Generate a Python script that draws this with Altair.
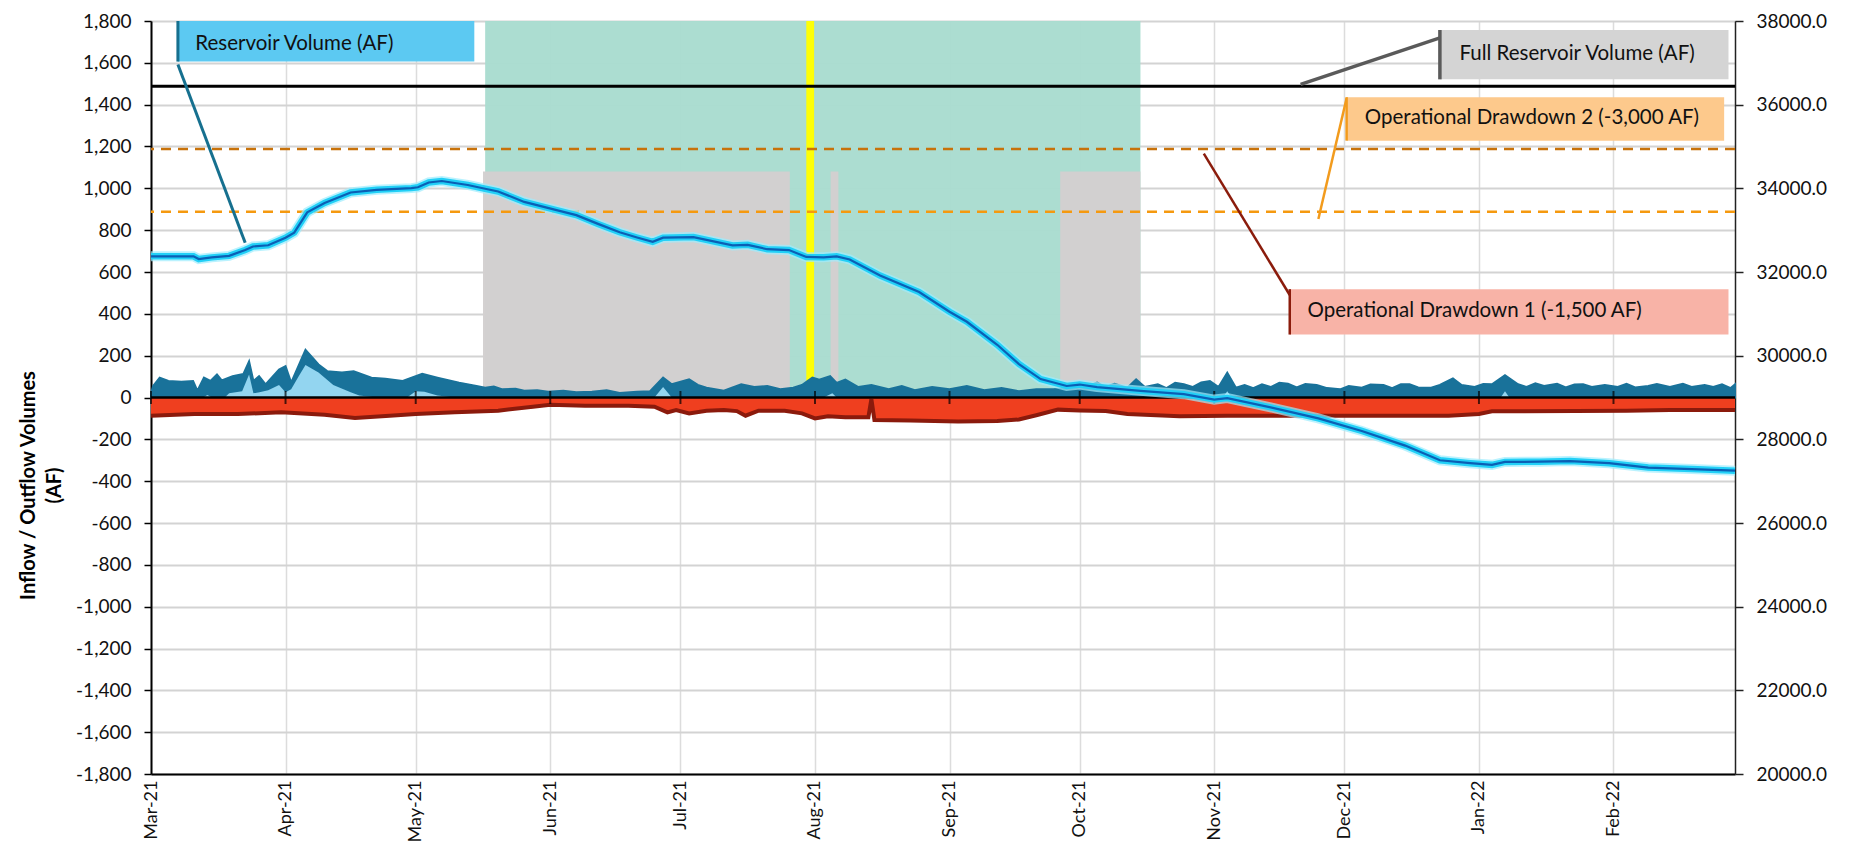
import altair as alt
import pandas as pd

FONT = "Lato"
BASE = pd.Timestamp("2021-03-01")


def dates(days):
    return [BASE + pd.Timedelta(days=float(d)) for d in days]


# ---------------- data (days counted from 1 Mar 2021) ----------------
res_day = [0, 5, 9.8, 11, 14, 18, 21.7, 23.5, 27, 31, 33, 36, 40, 46, 52, 60, 61.5, 64, 67, 73,
           77, 80, 86, 93, 98, 103, 108, 112, 115.6, 118, 125, 134, 137.5, 142, 147, 151, 155, 158, 161, 168,
           177, 184, 188, 195, 200, 205, 211, 214, 218, 228, 238, 245, 248, 258, 269, 279, 289, 297, 304, 309,
           312, 320, 327, 336, 345, 355, 365]
res_af = [32375, 32375, 32375, 32310, 32350, 32385, 32525, 32610, 32640, 32820, 32940, 33425, 33650, 33900,
          33965, 34005, 34025, 34140, 34175, 34080, 33990, 33925, 33675, 33490, 33360, 33150, 32950, 32825,
          32720, 32820, 32835, 32635, 32650, 32545, 32525, 32360, 32350, 32375, 32300, 31915, 31520, 31050,
          30810, 30260, 29800, 29440, 29275, 29310, 29250, 29160, 29080, 28950, 28985, 28765, 28500, 28200,
          27850, 27500, 27430, 27390, 27460, 27465, 27480, 27430, 27325, 27290, 27250]

in_day = [0, 0.5, 2, 4, 7, 9.7, 10.7, 12.2, 13.7, 15.2, 16.3, 18.8, 21.3, 22.6, 23.6, 24.9, 26.4, 29.5, 31, 32.3,
          35.6, 38.6, 40.6, 44, 46.7, 50.8, 54, 58, 62.5, 66, 71, 75, 77, 79, 81, 84, 86, 89, 91.5, 95,
          98, 101.6, 105, 108, 112, 115, 118, 120, 124, 126, 128, 132, 136, 139, 142, 145, 148, 150, 152.4, 154,
          156.5, 158, 160, 163, 166, 170, 173, 176, 180, 184, 188, 192, 196, 200, 204, 208, 211, 214, 216, 218,
          220, 222, 225, 227, 229, 232, 234, 236, 238, 240, 242, 244, 246, 248, 250, 252, 254, 256, 258, 260,
          262, 264, 266, 268.6, 271, 274, 276, 279, 281, 284, 286, 288, 290, 292, 295, 297, 300, 302, 305, 307,
          309, 312, 315, 317, 319, 321, 324, 326, 328, 330, 332, 335, 338, 340, 342, 345, 347, 350, 353, 355,
          358, 360, 362, 364, 365]
in_total = [20, 55, 95, 79, 75, 79, 32, 95, 79, 110, 82, 102, 113, 173, 79, 102, 63, 134, 150, 71,
            228, 158, 126, 120, 126, 95, 90, 79, 113, 95, 71, 55, 47, 52, 39, 42, 32, 35, 27, 32,
            25, 28, 35, 22, 27, 30, 95, 63, 87, 60, 47, 32, 63, 50, 55, 40, 47, 60, 95, 85,
            102, 70, 85, 50, 60, 40, 55, 35, 50, 40, 55, 35, 45, 30, 40, 39, 45, 39, 55, 71,
            50, 65, 47, 87, 50, 63, 45, 70, 63, 50, 72, 79, 50, 118, 47, 60, 45, 63, 50, 70,
            66, 48, 65, 60, 45, 39, 55, 47, 62, 60, 45, 63, 63, 48, 47, 60, 91, 60, 50, 65,
            63, 107, 63, 50, 68, 55, 65, 48, 62, 63, 50, 60, 50, 65, 48, 55, 65, 50, 66, 50,
            60, 50, 63, 45, 63]

light_day = [0, 12, 13, 14, 17, 18, 21, 22.6, 23.6, 25, 27, 29.5, 31, 32.3, 34, 35.6, 38.6, 42, 46, 48,
             52, 59, 61, 63, 66, 70, 116, 118, 120, 155, 157, 158, 247, 248, 249, 311, 312, 313, 365]
in_light = [0, 0, 12, 0, 0, 20, 30, 110, 20, 25, 35, 60, 25, 40, 100, 155, 120, 60, 25, 10,
            0, 0, 30, 28, 10, 0, 0, 50, 0, 0, 20, 0, 0, 30, 0, 0, 30, 0, 0]

out_day = [0, 10, 20, 30, 40, 47, 55, 61, 70, 80, 88, 92, 100, 110, 116, 119, 121, 124, 128, 132,
           135, 137, 140, 146, 150, 153, 156, 160, 165.3, 166, 166.7, 175, 186, 195, 200, 204, 209, 214, 220, 225,
           237, 248, 268, 299, 306, 309, 340, 350, 365]
out_val = [-87, -79, -79, -71, -82, -98, -87, -79, -71, -63, -44, -35, -39, -39, -44, -71, -60, -76, -63, -60,
           -65, -87, -63, -63, -76, -100, -90, -95, -95, -8, -108, -110, -115, -112, -105, -85, -58, -62, -65, -79,
           -90, -87, -87, -87, -79, -66, -63, -60, -60]

# reference volumes (AF, right axis)
ref_names = ["Full Reservoir Volume (AF)", "Operational Drawdown 1 (-1,500 AF)", "Operational Drawdown 2 (-3,000 AF)"]
ref_af = [36440, 34940, 33440]

# shaded periods (days) and their heights on the left axis
shade_start = [77, 76.5, 156.6, 209.5, 151]
shade_end = [228, 147.2, 158.4, 228, 152.8]
shade_top = [1800, 1080, 1080, 1080, 1800]
shade_color = ["#a9dccf", "#d3d0d0", "#d3d0d0", "#d3d0d0", "#ffff00"]

month_starts = ["2021-03-01", "2021-04-01", "2021-05-01", "2021-06-01", "2021-07-01", "2021-08-01",
                "2021-09-01", "2021-10-01", "2021-11-01", "2021-12-01", "2022-01-01", "2022-02-01"]

# call-out boxes
box_label = ["Reservoir Volume (AF)", "Full Reservoir Volume (AF)",
             "Operational Drawdown 2 (-3,000 AF)", "Operational Drawdown 1 (-1,500 AF)"]
box_start = [6.2, 297, 275.5, 262.4]
box_end = [74.5, 363.5, 362.5, 363.5]
box_top = [1800, 1757, 1436, 518]
box_bottom = [1606, 1521, 1228, 301]
box_fill = ["#5cc9f2", "#d4d4d4", "#fdc98c", "#f8b3a7"]
box_accent = ["#16708f", "#5a5a5a", "#f29b1d", "#8b1c0c"]
text_day = [10.2, 301.5, 279.7, 266.5]
text_v = [1690, 1640, 1334, 412]
lead_from_day = [6.2, 297, 275.5, 262.4]
lead_from_v = [1592, 1719, 1431, 490]
lead_to_day = [21.7, 264.9, 269, 242.6]
lead_to_v = [740, 1497, 853, 1166]
lead_width = [3, 3.5, 2.5, 2.5]

# ---------------- frames ----------------
res_df = pd.DataFrame({"date": dates(res_day), "v": res_af})
in_df = pd.DataFrame({"date": dates(in_day), "v": in_total})
light_df = pd.DataFrame({"date": dates(light_day), "v": in_light})
out_df = pd.DataFrame({"date": dates(out_day), "v": out_val})
shade_df = pd.DataFrame({"start": dates(shade_start), "end": dates(shade_end),
                         "top": shade_top, "color": shade_color})
month_df = pd.DataFrame({"date": pd.to_datetime(month_starts), "v": 0})
box_df = pd.DataFrame({"label": box_label, "start": dates(box_start), "end": dates(box_end),
                       "top": box_top, "bottom": box_bottom, "fill": box_fill, "accent": box_accent,
                       "tdate": dates(text_day), "tv": text_v,
                       "f": dates(lead_from_day), "fv": lead_from_v,
                       "t": dates(lead_to_day), "tov": lead_to_v, "w": lead_width})

# ---------------- scales & axes ----------------
XS = alt.Scale(domain=[alt.DateTime(year=2021, month=3, date=1),
                       alt.DateTime(year=2022, month=3, date=1)], nice=False)


def left_scale():
    return alt.Scale(domain=[-1800, 1800], nice=False, zero=False)


def right_scale():
    return alt.Scale(domain=[20000, 38000], nice=False, zero=False)


month_vals = [alt.DateTime(year=int(s[:4]), month=int(s[5:7]), date=1) for s in month_starts]

x_axis = alt.Axis(values=month_vals, format="%b-%y", labelAngle=270, labelFontSize=18, labelFont=FONT,
                  labelColor="#111111", labelPadding=6, ticks=False, grid=True, gridColor="#dcdcdc",
                  gridWidth=1.5, domainColor="black", domainWidth=2, title=None, labelOverlap=False,
                  labelFlush=False, labelBound=False)
left_axis = alt.Axis(orient="left", values=list(range(-1800, 1801, 200)),
                     labelExpr="replace(format(datum.value, ','), '\u2212', '-')",
                     labelFontSize=19, labelFont=FONT, labelColor="#111111", tickSize=7, tickColor="black",
                     tickWidth=1.5, domainColor="black", domainWidth=2, gridColor="#d3d3d3", gridWidth=1.8,
                     labelPadding=13, title=["Inflow / Outflow Volumes", "(AF)"], titleFont=FONT,
                     titleFontSize=20, titleFontWeight="bold", titleAngle=270, titleX=-113, titleY=464,
                     titleAlign="center", titleBaseline="bottom", titleColor="black", titleLineHeight=26)
right_axis = alt.Axis(orient="right", values=list(range(20000, 38001, 2000)), format=".1f",
                      labelFontSize=19, labelFont=FONT, labelColor="#111111", tickSize=8, tickColor="#222222",
                      tickWidth=1.5, domainColor="#222222", domainWidth=1.5, grid=False, labelPadding=13,
                      title=None)


def xe(field):
    return alt.X(f"{field}:T", scale=XS, axis=x_axis)


def yl(field, axis=None):
    return alt.Y(f"{field}:Q", scale=left_scale(), axis=axis)


def yr(field, axis=None):
    return alt.Y(f"{field}:Q", scale=right_scale(), axis=axis)


# ---------------- background + flows (left scale) ----------------
shade = alt.Chart(shade_df).mark_rect(opacity=0.97).encode(
    x=xe("start"), x2="end:T", y=yl("top", left_axis), y2=alt.datum(0),
    color=alt.Color("color:N", scale=None),
)
inflow = alt.Chart(in_df).mark_area(color="#19729a", stroke="#19729a", strokeWidth=2).encode(
    x=xe("date"), y=yl("v"), y2=alt.datum(0))
inlight = alt.Chart(light_df).mark_area(color="#93d5f0").encode(x=xe("date"), y=yl("v"), y2=alt.datum(0))
outflow = alt.Chart(out_df).mark_area(color="#ef3f1f").encode(x=xe("date"), y=yl("v"), y2=alt.datum(0))
outedge = alt.Chart(out_df).mark_line(color="#8b1a0c", strokeWidth=4).encode(x=xe("date"), y=yl("v"))
zero = alt.Chart(pd.DataFrame({"v": [0]})).mark_rule(color="black", strokeWidth=2.5).encode(y=yl("v"))
mticks = alt.Chart(month_df).mark_tick(orient="vertical", size=13, thickness=2, color="black").encode(
    x=xe("date"), y=yl("v"))

# ---------------- reference volumes + reservoir (right scale) ----------------
full_line = alt.Chart(pd.DataFrame({"v": [ref_af[0]]})).mark_rule(color="black", strokeWidth=2.8).encode(
    y=yr("v", right_axis))
od1_line = alt.Chart(pd.DataFrame({"v": [ref_af[1]]})).mark_rule(
    color="#c8720a", strokeWidth=2.5, strokeDash=[10, 7]).encode(y=yr("v"))
od2_line = alt.Chart(pd.DataFrame({"v": [ref_af[2]]})).mark_rule(
    color="#f5990f", strokeWidth=2.5, strokeDash=[10, 7]).encode(y=yr("v"))
glow = alt.Chart(res_df).mark_line(color="#9cecfd", strokeWidth=10, opacity=0.7).encode(x=xe("date"), y=yr("v"))
cyan = alt.Chart(res_df).mark_line(color="#22d0f7", strokeWidth=6.5).encode(x=xe("date"), y=yr("v"))
core = alt.Chart(res_df).mark_line(color="#0b5fb5", strokeWidth=2.2).encode(x=xe("date"), y=yr("v"))

# ---------------- call-outs (left scale) ----------------
leaders = alt.Chart(box_df).mark_rule().encode(
    x=xe("f"), x2="t:T", y=yl("fv"), y2="tov:Q",
    color=alt.Color("accent:N", scale=None), strokeWidth=alt.StrokeWidth("w:Q", scale=None))
boxes = alt.Chart(box_df).mark_rect().encode(
    x=xe("start"), x2="end:T", y=yl("top"), y2="bottom:Q", color=alt.Color("fill:N", scale=None))
accents = alt.Chart(box_df).mark_rule().encode(
    x=xe("start"), y=yl("top"), y2="bottom:Q",
    color=alt.Color("accent:N", scale=None), strokeWidth=alt.StrokeWidth("w:Q", scale=None))
labels = alt.Chart(box_df).mark_text(align="left", baseline="middle", font=FONT, fontSize=20.5,
                                     color="#111111").encode(x=xe("tdate"), y=yl("tv"), text="label:N")

chart = alt.layer(
    shade, inflow, inlight, outflow, outedge, zero, mticks,
    full_line, od1_line, od2_line, glow, cyan, core,
    leaders, boxes, accents, labels,
).resolve_scale(y="independent").properties(
    width=1584, height=753,
    padding={"left": 143, "top": 13, "right": 100, "bottom": 68},
    autosize=alt.AutoSizeParams(type="none"),
).configure(font=FONT).configure_view(stroke="#555555", strokeWidth=1)

chart.save("out.html", embed_options={"renderer": "svg", "actions": False})
